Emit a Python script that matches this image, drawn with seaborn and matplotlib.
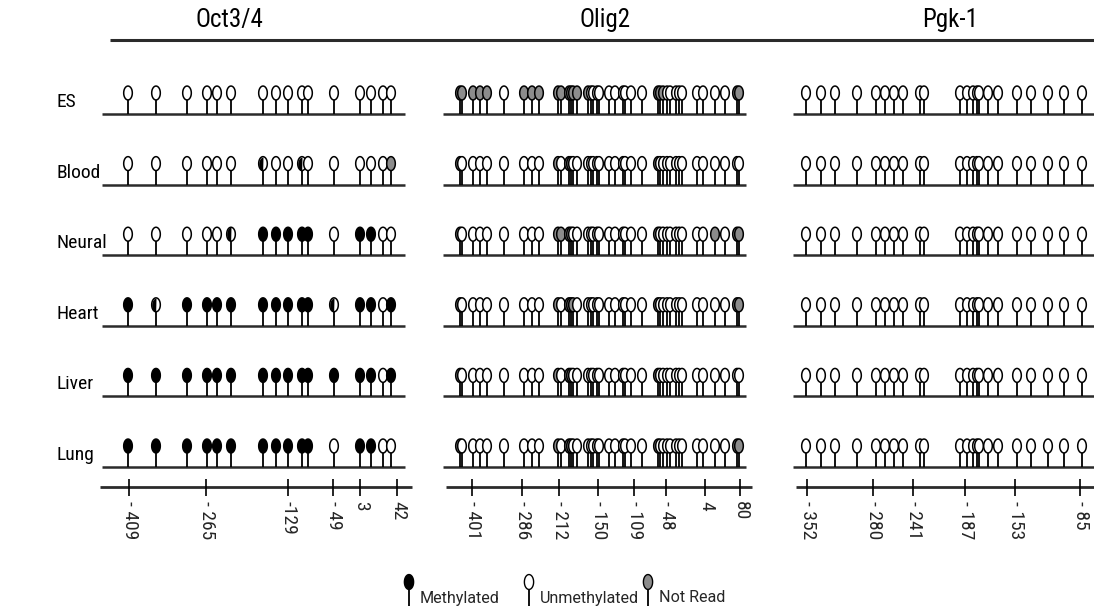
import numpy as np
import pandas as pd
import matplotlib
matplotlib.use("Agg")
import matplotlib.pyplot as plt
import seaborn as sns
from matplotlib.path import Path
from matplotlib.markers import MarkerStyle
from matplotlib import font_manager

sns.set_theme(style="white")
_avail = {f.name for f in font_manager.fontManager.ttflist}
_fams = [f for f in ["Liberation Sans Narrow", "Roboto Condensed", "Open Sans Condensed",
                     "Roboto", "DejaVu Sans"] if f in _avail]
plt.rcParams["font.family"] = _fams
_regular = [f for f in ["Roboto", "DejaVu Sans"] if f in _avail]

# ---------------- data ----------------
tissues = ["ES", "Blood", "Neural", "Heart", "Liver", "Lung"]
genes = ["Oct3/4", "Olig2", "Pgk-1"]

# CpG positions along each amplicon (relative drawing units)
oct_cpg = [28, 56, 87, 107, 117, 131, 163, 176, 188, 202, 208, 234, 260, 271, 283, 291]
olig_cpg = [17, 19, 30, 37, 44, 61, 81, 89, 96, 115, 118, 126, 128, 130, 134, 145, 148, 150,
            154, 156, 166, 172, 180, 182, 188, 199, 215, 217, 220, 224, 227, 233, 236, 239,
            254, 260, 272, 282, 294, 296]
pgk_cpg = [16, 31, 45, 67, 86, 95, 104, 113, 130, 134, 170, 177, 183, 187, 189, 198, 208,
           227, 241, 258, 274, 292]

# M = methylated, U = unmethylated, N = not read, H = partially methylated
oct_states = {
    "ES":     "UUUUUUUUUUUUUUUU",
    "Blood":  "UUUUUUHUUHUUUUUN",
    "Neural": "UUUUUHMMMMMUMMUU",
    "Heart":  "MHMMMMMMMMMHMMUM",
    "Liver":  "MMMMMMMMMMMMMMUM",
    "Lung":   "MMMMMMMMMMMUMMUU",
}
olig_states = {
    "ES":     "NNNNN" + "U" + "NNN" + "NNNNNN" + "N" + "UUUUUUUUUU" + "NNN" + "UUUUUUUUU" + "NN",
    "Blood":  "N" + "UUUUUUUU" + "N" + "U" + "NN" + "UUUUUUUUUUUUU" + "N" + "UUUUUUUUUUUUU",
    "Neural": "N" + "UUUUUUUU" + "NNNN" + "UUUUUUUUUUUUU" + "N" + "UUUUUUUUU" + "N" + "U" + "NN",
    "Heart":  "N" + "UUUUUUUU" + "N" + "U" + "NNN" + "UUUUUUUUUUUU" + "N" + "UUUUUUUUUUU" + "NN",
    "Liver":  "N" + "UUUUUUUU" + "N" + "U" + "NN" + "UUUUUUUUUUUUU" + "N" + "UUUUUUUUUUUUU",
    "Lung":   "N" + "UUUUUUUU" + "N" + "U" + "NN" + "UUUUUUUUUUUUU" + "N" + "UUUUUUUUUUU" + "NN",
}
pgk_states = {t: "U" * len(pgk_cpg) for t in tissues}

oct_ticks = [29, 106, 188, 233, 260, 297]
oct_tick_labels = ["- 409", "- 265", "-129", "- 49", "3", "42"]
olig_ticks = [29, 79, 116, 155, 191, 223, 262, 297]
olig_tick_labels = ["- 401", "- 286", "- 212", "- 150", "- 109", "- 48", "4", "80"]
pgk_ticks = [17, 83, 123, 175, 225, 290]
pgk_tick_labels = ["- 352", "- 280", "- 241", "- 187", "- 153", "- 85"]

legend_labels = ["Methylated", "Unmethylated", "Not Read"]
legend_states = ["M", "U", "N"]

# ---------------- layout ----------------
W, H = 1094, 610
panel_left = [100, 443, 790]
panel_base = [(2, 305), (0, 303), (3, 304)]
panel_axis = [(0, 312), (3, 309), (6, 304)]
title_x = [229, 605, 950]
row_base0, row_step = 114, 70.6
head_rise, stem_top = 21, 15
axis_y = 487

narrow = _fams[0] in ("Liberation Sans Narrow", "Roboto Condensed", "Open Sans Condensed")
fs_scale = 1.0 if narrow else 0.85

cpgs = [oct_cpg, olig_cpg, pgk_cpg]
states = [oct_states, olig_states, pgk_states]
ticks = [oct_ticks, olig_ticks, pgk_ticks]
tick_labels = [oct_tick_labels, olig_tick_labels, pgk_tick_labels]

rows = []
for g, gene in enumerate(genes):
    for r, t in enumerate(tissues):
        st = states[g][t]
        assert len(st) == len(cpgs[g]), (gene, t, len(st))
        base = row_base0 + r * row_step
        for pos, s in zip(cpgs[g], st):
            rows.append(dict(gene=gene, tissue=t, x=panel_left[g] + pos, base=base,
                             y=base - head_rise, state=s))
df = pd.DataFrame(rows)

# markers
th = np.linspace(0, 2 * np.pi, 80)
ell = Path(np.column_stack([0.62 * np.cos(th), np.sin(th)]), closed=True)
th2 = np.linspace(np.pi / 2, 3 * np.pi / 2, 40)
half = Path(np.column_stack([0.62 * np.cos(th2), np.sin(th2)]), closed=True)
ell_m = MarkerStyle(ell)
half_m = MarkerStyle(half)

palette = {"M": "black", "U": "white", "N": "#8c8c8c", "H": "white"}
line_c = "#2b2b2b"

fig = plt.figure(figsize=(W / 100, H / 100), dpi=100)
ax = fig.add_axes([0, 0, 1, 1])
ax.set_xlim(0, W)
ax.set_ylim(H, 0)
ax.axis("off")

# title underline and titles
ax.plot([110, W], [40, 40], color=line_c, lw=2.2, solid_capstyle="butt")
for g, gene in enumerate(genes):
    ax.text(title_x[g], 20, gene, ha="center", va="center", fontsize=18 * fs_scale,
            color="black")

# row labels and baselines
for r, t in enumerate(tissues):
    base = row_base0 + r * row_step
    ax.text(57, base - 12, t, ha="left", va="center", fontsize=14 * fs_scale, color="black")
    for g in range(3):
        x0, x1 = panel_base[g]
        ax.plot([panel_left[g] + x0, panel_left[g] + x1], [base, base], color=line_c,
                lw=1.8, solid_capstyle="butt", zorder=1)

# stems
ax.vlines(df["x"], df["base"] - stem_top, df["base"], color="black", lw=1.3, zorder=2)

# heads
sns.scatterplot(data=df, x="x", y="y", hue="state", palette=palette, marker=ell_m, s=100,
                edgecolor="black", linewidth=1.1, legend=False, ax=ax, zorder=3)
dh = df[df["state"] == "H"]
sns.scatterplot(data=dh, x="x", y="y", color="black", marker=half_m, s=100,
                linewidth=0, legend=False, ax=ax, zorder=4)

# position axes
for g in range(3):
    x0, x1 = panel_axis[g]
    ax.plot([panel_left[g] + x0, panel_left[g] + x1], [axis_y, axis_y], color=line_c,
            lw=2.0, solid_capstyle="butt")
    tx = [panel_left[g] + v for v in ticks[g]]
    ax.vlines(tx, axis_y - 8, axis_y + 9, color="black", lw=1.2)
    for xv, lab in zip(tx, tick_labels[g]):
        ax.text(xv + 1, 501, lab, rotation=270, ha="center", va="top", fontsize=14 * fs_scale)

# legend
leg_x = [409, 529, 648]
ldf = pd.DataFrame(dict(x=leg_x, y=[582] * 3, state=legend_states))
ax.vlines(ldf["x"], 588, 606, color="black", lw=1.3)
sns.scatterplot(data=ldf, x="x", y="y", hue="state", palette=palette, marker=ell_m, s=115,
                edgecolor="black", linewidth=1.0, legend=False, ax=ax, zorder=3)
for xv, lab in zip(leg_x, legend_labels):
    ax.text(xv + 11, 598, lab, ha="left", va="center", fontsize=11.6, family=_regular)

ax.set_xlim(0, W)
ax.set_ylim(H, 0)
fig.savefig("out.png", dpi=100, facecolor="white")
